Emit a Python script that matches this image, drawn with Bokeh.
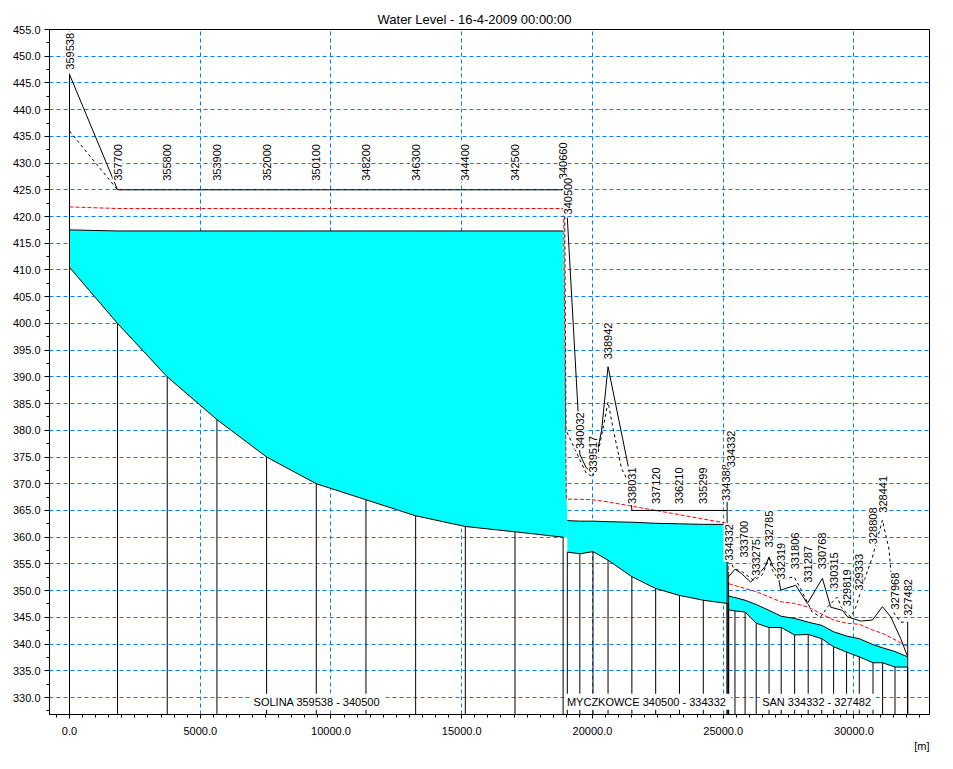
import numpy as np
from bokeh.plotting import figure
from bokeh.models import Range1d, SingleIntervalTicker, PrintfTickFormatter, Title
from bokeh.core.properties import value
from bokeh.embed import file_html
from bokeh.resources import INLINE

FONT = "Liberation Sans"
CYAN = "#00ffff"
GRID = "#0080ff"

title_text = "Water Level - 16-4-2009 00:00:00"
unit_text = "[m]"

# ---------------- Solina reach ----------------
sol_x = [0, 1838, 3738, 5638, 7538, 9438, 11338, 13238, 15138, 17038, 18878]
sol_bed = [410.5, 400.0, 390.0, 382.0, 375.0, 370.0, 367.0, 364.0, 362.0, 361.0, 360.0]
sol_wl = [417.5, 417.3, 417.3, 417.3, 417.3, 417.3, 417.3, 417.3, 417.3, 417.3, 417.3]
sol_dam_x = 19038
sol_dam_y = 360.0
sol_top_x = [0, 1838, 18878]
sol_top_y = [446.6, 425.0, 425.0]
sol_dash_x = [0, 1838]
sol_dash_y = [436.0, 425.0]

# ---------------- Myczkowce reach ----------------
myc_x = [19038, 19518, 20021, 20596, 21507, 22418, 23328, 24239, 25150, 25206]
myc_bed = [357.2, 356.9, 357.3, 355.7, 352.6, 350.4, 349.1, 348.2, 347.6, 347.6]
myc_wl = [363.1, 363.0, 363.0, 362.9, 362.8, 362.6, 362.5, 362.4, 362.4, 362.4]
myc_top_x = [19038, 19440, 19518, 19760, 20021, 20350, 20596, 21400, 21507, 25150]
myc_top_y = [419.8, 384.4, 375.5, 373.0, 371.9, 380.0, 391.9, 372.5, 365.0, 365.0]
myc_dash_x = [18940, 18990, 19518, 19760, 20021, 20354, 20596, 20790, 21110, 21300]
myc_dash_y = [420.0, 380.0, 374.5, 372.0, 371.3, 379.1, 385.3, 380.3, 372.9, 371.0]

# ---------------- San reach ----------------
san_x = [25206, 25450, 25838, 26263, 26753, 27219, 27732, 28251, 28770, 29223,
         29719, 30205, 30730, 31097, 31570, 32056]
san_bed = [346.4, 346.2, 346.0, 343.9, 343.1, 343.1, 341.7, 341.8, 341.0, 339.5,
           338.5, 337.6, 336.5, 336.5, 335.7, 335.7]
san_wl = [349.0, 348.7, 348.2, 347.4, 346.3, 345.2, 344.8, 344.1, 343.5, 342.3,
          341.5, 341.0, 339.9, 339.3, 338.6, 337.6]
san_top_x = [25206, 25450, 25700, 26050, 26370, 26600, 26752, 26900, 27072, 27199,
             27773, 28221, 28794, 29112, 29560, 29752, 30261, 30708, 31091, 31408,
             31791, 32056]
san_top_y = [352.6, 354.0, 353.2, 351.6, 353.2, 354.5, 356.3, 354.5, 353.5, 350.1,
             351.0, 347.6, 352.3, 346.9, 346.3, 345.1, 344.3, 344.5, 347.0, 345.1,
             341.0, 337.6]
san_dash_x = [25360, 25360, 25500, 25733, 26177, 26500, 26752, 26881, 27135, 27450,
              27709, 28000, 28400, 28731, 29000, 29367, 29500, 29719, 29878, 30070,
              30400, 30708, 31091, 31346, 31537, 31791, 32056]
san_dash_y = [358.2, 354.5, 354.0, 353.5, 351.9, 353.0, 356.0, 353.8, 351.9, 352.3,
              352.6, 350.0, 346.0, 345.1, 347.0, 348.8, 347.0, 345.8, 345.1, 346.9,
              352.0, 356.3, 363.2, 357.6, 345.7, 344.1, 344.1]

# ---------------- red dashed level ----------------
red_x = [0, 1838, 18878, 18900, 19000, 19518, 20021, 20596, 21507, 22418, 23328,
         24239, 25150, 25206, 25838, 26263, 27219, 27732, 28251, 29223, 29719,
         30205, 30730, 31097, 31570, 32056]
red_y = [421.8, 421.5, 421.5, 419.8, 367.1, 367.1, 367.0, 366.6, 365.8, 365.0, 364.2,
         363.4, 362.6, 351.3, 350.4, 349.8, 347.9, 347.6, 346.9, 344.5, 343.9,
         343.7, 342.6, 342.0, 340.8, 339.5]

# reach-end verticals (full height to bank)
end_x = [0, 25150, 25206, 32056]
end_top = [446.6, 372.9, 353.5, 344.1]

# ---------------- section labels ----------------
lab_text = ["359538", "357700", "355800", "353900", "352000", "350100", "348200",
            "346300", "344400", "342500", "340660", "340500",
            "340032", "339517", "338942", "338031", "337120", "336210", "335299",
            "334388", "334332",
            "334332", "333700", "333275", "332785", "332319", "331806", "331287",
            "330768", "330315", "329819", "329333", "328808", "328441", "327968",
            "327482"]
lab_x = [0, 1838, 3738, 5638, 7538, 9438, 11338, 13238, 15138, 17038, 18870, 19065,
         19518, 20021, 20596, 21507, 22418, 23328, 24239,
         25093, 25283,
         25206, 25794, 26243, 26753, 27219, 27732, 28251,
         28770, 29239, 29719, 30205, 30730, 31097, 31570,
         32056]
lab_y = [447.3, 426.5, 426.5, 426.5, 426.5, 426.5, 426.5, 426.5, 426.5, 426.5, 426.8, 420.2,
         376.3, 371.9, 393.1, 366.0, 366.0, 366.0, 366.0,
         366.6, 372.9,
         355.4, 356.0, 352.6, 357.9, 351.9, 353.8, 351.3,
         353.8, 350.1, 346.9, 349.8, 358.5, 364.4, 346.3,
         345.1]

reg_text = ["SOLINA  359538 - 340500", "MYCZKOWCE  340500 - 334332", "SAN  334332 - 327482"]
reg_x = [9519, 22122, 28631]
reg_y = [329.2, 329.2, 329.2]

X0, X1 = -765, 32890
Y0, Y1 = 326.82, 455.0

p = figure(width=945, height=761, x_range=Range1d(X0, X1), y_range=Range1d(Y0, Y1),
           output_backend="svg", toolbar_location=None,
           min_border_left=49, min_border_right=16, min_border_top=29, min_border_bottom=47)
p.title.text = title_text
p.title.align = "left"
p.title.text_font = FONT
p.title.text_font_size = "13px"
p.title.text_font_style = "normal"
p.title.text_color = "black"
p.title.standoff = 5
p.title.offset = 328
p.outline_line_color = "black"
p.outline_line_alpha = 1.0
p.background_fill_color = "white"
p.border_fill_color = "white"

xt = SingleIntervalTicker(interval=5000, num_minor_ticks=10)
yt = SingleIntervalTicker(interval=5, num_minor_ticks=2)
p.xaxis.ticker = xt
p.yaxis.ticker = yt
p.xgrid.ticker = xt
p.ygrid.ticker = yt
for ax in (p.xaxis, p.yaxis):
    ax.formatter = PrintfTickFormatter(format="%.1f")
    ax.major_label_text_font = FONT
    ax.major_label_text_font_size = "11px"
    ax.major_label_text_color = "black"
    ax.axis_line_color = "black"
    ax.major_tick_line_color = "black"
    ax.minor_tick_line_color = "black"
    ax.major_tick_in = 0
    ax.minor_tick_in = 0
    ax.minor_tick_out = 3
p.xaxis.major_tick_out = 4
p.xaxis.major_label_standoff = 8
p.yaxis.major_tick_out = 5
p.yaxis.major_label_standoff = 4
for g in (p.xgrid, p.ygrid):
    g.grid_line_color = GRID
    g.grid_line_dash = "4 3"
    g.grid_line_width = 1

unit_title = Title(text=unit_text, align="right", text_font=FONT, text_font_size="11px",
                   text_font_style="normal", text_color="black", standoff=0)
p.add_layout(unit_title, "below")

# water bodies
p.patch(sol_x + [sol_dam_x] + sol_x[::-1], sol_wl + [sol_dam_y] + sol_bed[::-1],
        fill_color=CYAN, line_color=None)
p.patch(myc_x + myc_x[::-1], myc_wl + myc_bed[::-1], fill_color=CYAN, line_color=None)
p.patch(san_x + san_x[::-1], san_wl + san_bed[::-1], fill_color=CYAN, line_color=None)

for xs, ys in ((sol_x, sol_wl), (sol_x, sol_bed), (myc_x, myc_wl), (myc_x, myc_bed),
               (san_x, san_wl), (san_x, san_bed)):
    p.line(xs, ys, line_color="black", line_width=1)

# cross-section verticals
all_x = sol_x + myc_x + san_x
all_bed = sol_bed + myc_bed + san_bed
p.segment(x0=all_x, y0=[Y0] * len(all_x), x1=all_x, y1=all_bed, line_color="black", line_width=1)
p.segment(x0=end_x, y0=[Y0] * len(end_x), x1=end_x, y1=end_top, line_color="black", line_width=1)

# levels
p.line(red_x, red_y, line_color="#ff0000", line_dash="4 2", line_width=1)
for xs, ys in ((sol_top_x, sol_top_y), (myc_top_x, myc_top_y), (san_top_x, san_top_y)):
    p.line(xs, ys, line_color="black", line_width=1)
for xs, ys in ((sol_dash_x, sol_dash_y), (myc_dash_x, myc_dash_y), (san_dash_x, san_dash_y)):
    p.line(xs, ys, line_color="black", line_dash="3 3", line_width=1)

# labels
p.text(x=lab_x, y=lab_y, text=lab_text, angle=np.pi / 2, text_align="left",
       text_baseline="middle", text_font=value(FONT), text_font_size="11px",
       text_color="black", background_fill_color="white", padding=1)
p.text(x=reg_x, y=reg_y, text=reg_text, text_align="center", text_baseline="middle",
       text_font=value(FONT), text_font_size="11px", text_color="black",
       background_fill_color="white", padding=2)

open("out.html", "w").write(file_html(p, INLINE))
